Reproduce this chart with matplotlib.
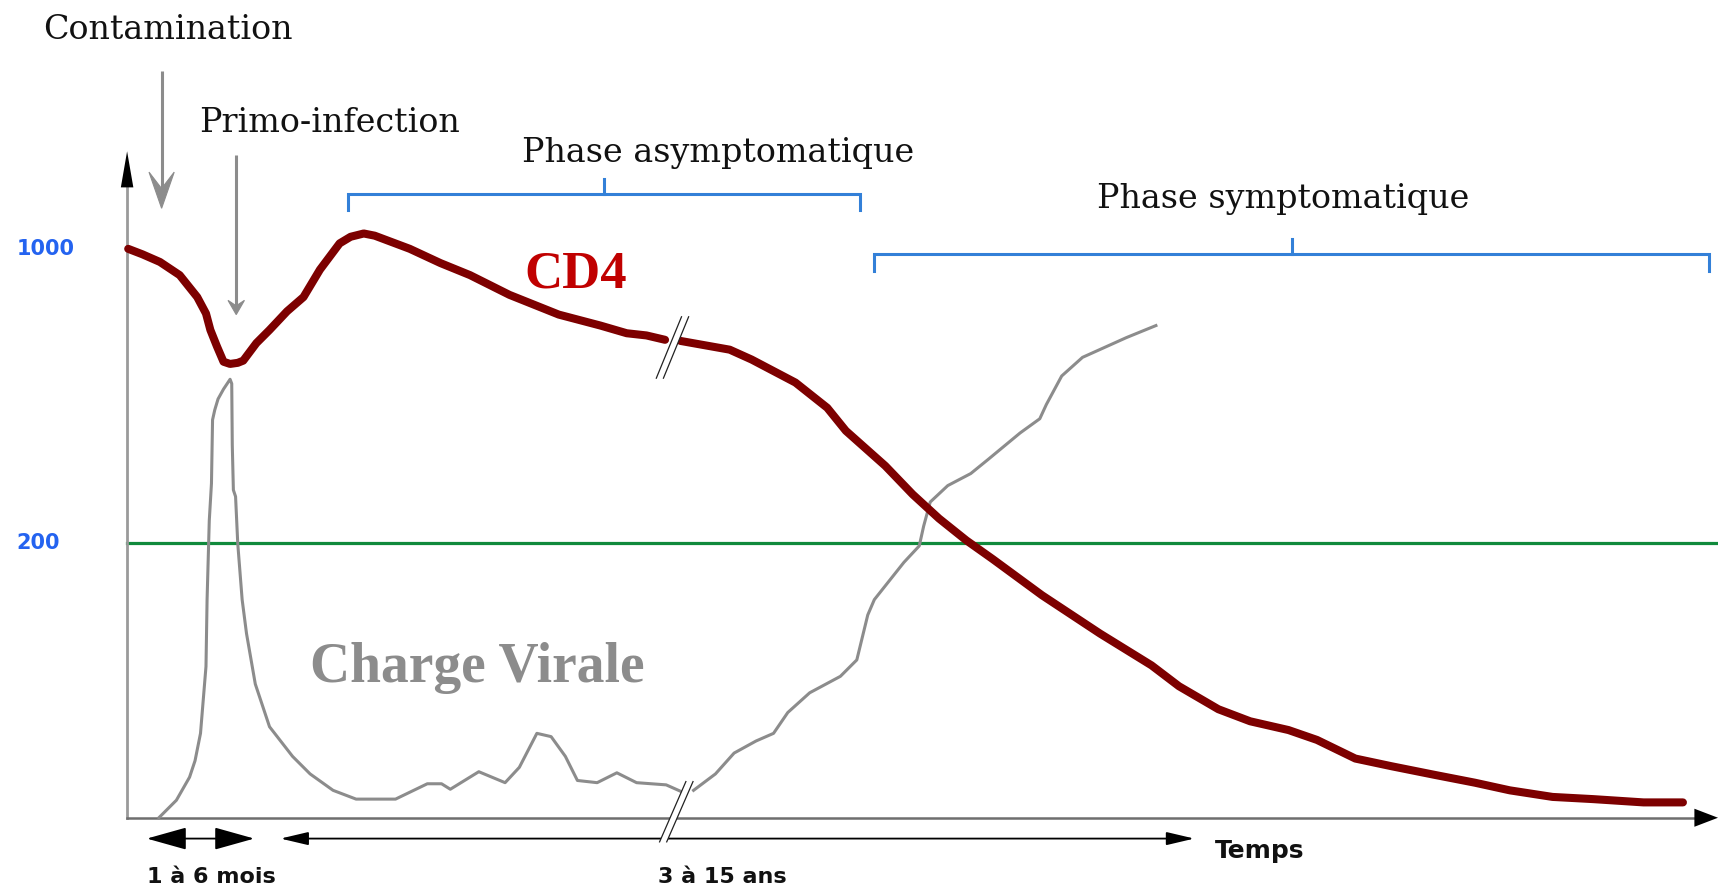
import matplotlib
matplotlib.use("Agg")
import matplotlib.pyplot as plt
from matplotlib.patches import Polygon

# ---------------- data (time position t, level above the time axis) ----------------
cd4_t1 = [1, 14, 30, 48, 64, 72, 76, 82, 88, 94, 101, 106, 118, 130, 146, 161, 176, 194, 204,
          216, 226, 234, 258, 286, 313, 349, 394, 432, 456, 474, 491]
cd4_l1 = [519, 514, 507, 495, 475, 460, 445, 430, 416, 414, 415, 417, 433, 445, 462, 475, 500, 524, 530,
          533, 531, 528, 519, 506, 495, 477, 459, 449, 442, 440, 436]
cd4_t2 = [505, 550, 570, 610, 639, 656, 692, 717, 741, 766, 790, 835, 888, 935, 960, 996, 1025,
          1060, 1086, 1121, 1154, 1194, 1230, 1262, 1301, 1338, 1384, 1420]
cd4_l2 = [435, 427, 418, 397, 374, 353, 321, 295, 273, 253, 236, 203, 168, 139, 120, 99, 88,
          80, 71, 54, 47, 39, 32, 25, 19, 17, 14, 14]

vir_t1 = [29, 45, 57, 62, 67, 72, 73, 75, 77, 78, 80, 83, 88, 92, 94, 95.5, 96, 97, 99, 101, 105,
          109, 117, 130, 151, 167, 188, 209, 245, 274, 287, 295, 321, 345, 358, 374, 387, 400,
          411, 429, 447, 465, 492, 510]
vir_l1 = [0, 16, 37, 52, 77, 138, 199, 271, 305, 363, 372, 382, 391, 397, 400, 396, 340, 299, 293,
          250, 199, 168, 122, 83, 56, 40, 25, 17, 17, 31, 31, 26, 42, 32, 46, 77, 74, 56,
          34, 32, 41, 32, 30, 22]
vir_t2 = [517, 537, 554, 574, 590, 603, 623, 651, 666, 676, 682, 709, 723, 727, 733, 749, 770,
          786, 815, 833, 839, 853, 872, 892, 912, 939]
vir_l2 = [25, 40, 59, 70, 77, 96, 114, 129, 144, 185, 199, 233, 248, 266, 288, 303, 314,
          327, 351, 364, 377, 403, 420, 429, 438, 449]

y_tick_values = [519, 251]
y_tick_labels = ["1000", "200"]
threshold_level = 251

phase_labels = ["Phase asymptomatique", "Phase symptomatique"]
phase_spans = [(202, 669), (682, 1444)]
event_labels = ["Contamination", "Primo-infection"]
duration_labels = ["1 à 6 mois", "3 à 15 ans"]

# ---------------- figure ----------------
fig = plt.figure(figsize=(17.18, 8.89), dpi=100)
ax = fig.add_axes([0, 0, 1, 1])
ax.set_xlim(-116, 1452)
ax.set_ylim(-65, 746)
ax.set_xticks([])
ax.set_yticks([])
for s in ["top", "right"]:
    ax.spines[s].set_visible(False)
ax.spines["left"].set_position(("data", 0))
ax.spines["bottom"].set_position(("data", 0))
ax.spines["left"].set_bounds(0, 576)
ax.spines["bottom"].set_bounds(0, 1435)
ax.spines["left"].set_color("#9a9a9a")
ax.spines["left"].set_linewidth(2.0)
ax.spines["bottom"].set_color("#6e6e6e")
ax.spines["bottom"].set_linewidth(1.8)

# axis arrow heads
ax.annotate("", xy=(0, 608), xytext=(0, 574),
            arrowprops=dict(arrowstyle="-|>,head_length=2.6,head_width=0.45", mutation_scale=10,
                            color="black", lw=0, shrinkA=0, shrinkB=0))
ax.annotate("", xy=(1452, 0), xytext=(1431, 0),
            arrowprops=dict(arrowstyle="-|>,head_length=1.7,head_width=0.65", mutation_scale=10,
                            color="black", lw=0, shrinkA=0, shrinkB=0))

# threshold line
ax.plot([0, 1452], [threshold_level, threshold_level], color="#108a3c", lw=2.3, zorder=2)

# curves
ax.plot(vir_t1, vir_l1, color="#8c8c8c", lw=2.2, solid_joinstyle="round", zorder=3)
ax.plot(vir_t2, vir_l2, color="#8c8c8c", lw=2.2, solid_joinstyle="round", zorder=3)
ax.plot(cd4_t1, cd4_l1, color="#7d0000", lw=5.8, solid_capstyle="round", solid_joinstyle="round", zorder=4)
ax.plot(cd4_t2, cd4_l2, color="#7d0000", lw=5.8, solid_capstyle="round", solid_joinstyle="round", zorder=4)

# y labels
for v, lab in zip(y_tick_values, y_tick_labels):
    ax.text(-101, v, lab, color="#2463f0", fontsize=15, fontweight="bold",
            family="DejaVu Sans", ha="left", va="center")

# curve labels
ax.text(409, 484, "CD4", color="#c00000", fontsize=38, fontweight="bold",
        family="Liberation Serif", ha="center", va="baseline")
ax.text(320, 124, "Charge Virale", color="#8c8c8c", fontsize=40, fontweight="bold",
        family="Liberation Serif", ha="center", va="baseline")


# event labels and arrows (stealth-shaped heads)
def stealth_arrow(x, top, tip, head_len, half_w, notch, lw=2.2, color="#8c8c8c"):
    ax.plot([x, x], [top, tip + notch], color=color, lw=lw, solid_capstyle="butt", zorder=3)
    head = Polygon([(x, tip), (x - half_w, tip + head_len), (x, tip + notch),
                    (x + half_w, tip + head_len)], closed=True, facecolor=color,
                   edgecolor=color, lw=0.8, zorder=3)
    ax.add_patch(head)


ax.text(37, 710, event_labels[0], fontsize=24, family="DejaVu Serif", ha="center", va="baseline",
        color="#111111")
stealth_arrow(31.5, 681, 556, 33, 11.5, 18)
ax.text(185, 626, event_labels[1], fontsize=24, family="DejaVu Serif", ha="center", va="baseline",
        color="#111111")
stealth_arrow(99.6, 605, 459, 13, 7.5, 8)

# phase brackets
bracket_levels = [569, 514]
label_pos = [(539.5, 598.5), (1055, 556)]
for (a, b), lab, lv, (tx, ty) in zip(phase_spans, phase_labels, bracket_levels, label_pos):
    c = (a + b) / 2
    ax.plot([a, a, b, b], [lv - 15, lv, lv, lv - 15], color="#3380d8", lw=2.2,
            solid_joinstyle="miter", zorder=2)
    ax.plot([c, c], [lv, lv + 14], color="#3380d8", lw=2.2, zorder=2)
    ax.text(tx, ty, lab, fontsize=24, family="DejaVu Serif", ha="center", va="baseline",
            color="#111111")

# duration arrows
ax.annotate("", xy=(116, -19), xytext=(18, -19),
            arrowprops=dict(arrowstyle="<|-|>,head_length=2.5,head_width=0.7", mutation_scale=10,
                            color="black", lw=1.3, shrinkA=0, shrinkB=0))
ax.annotate("", xy=(974, -19), xytext=(140, -19),
            arrowprops=dict(arrowstyle="<|-|>,head_length=1.7,head_width=0.4", mutation_scale=10,
                            color="black", lw=1.3, shrinkA=0, shrinkB=0))
ax.text(77, -54, duration_labels[0], fontsize=16, fontweight="bold", family="DejaVu Sans",
        ha="center", va="center", color="#111111")
ax.text(543, -54, duration_labels[1], fontsize=16, fontweight="bold", family="DejaVu Sans",
        ha="center", va="center", color="#111111")
ax.text(1034, -30, "Temps", fontsize=18, fontweight="bold", family="DejaVu Sans",
        ha="center", va="center", color="#111111")


# break marks (//)
def break_mark(x0, y0, x1, y1, dx):
    poly = Polygon([(x0, y0), (x1, y1), (x1 + dx, y1), (x0 + dx, y0)], closed=True,
                   facecolor="white", edgecolor="none", zorder=5)
    ax.add_patch(poly)
    ax.plot([x0, x1], [y0, y1], color="#222222", lw=0.9, zorder=6)
    ax.plot([x0 + dx, x1 + dx], [y0, y1], color="#222222", lw=0.9, zorder=6)


break_mark(486, -22, 510, 33, 6.5)
break_mark(483, 401, 506, 457, 6.5)

fig.savefig("out.png", dpi=100, facecolor="white")
